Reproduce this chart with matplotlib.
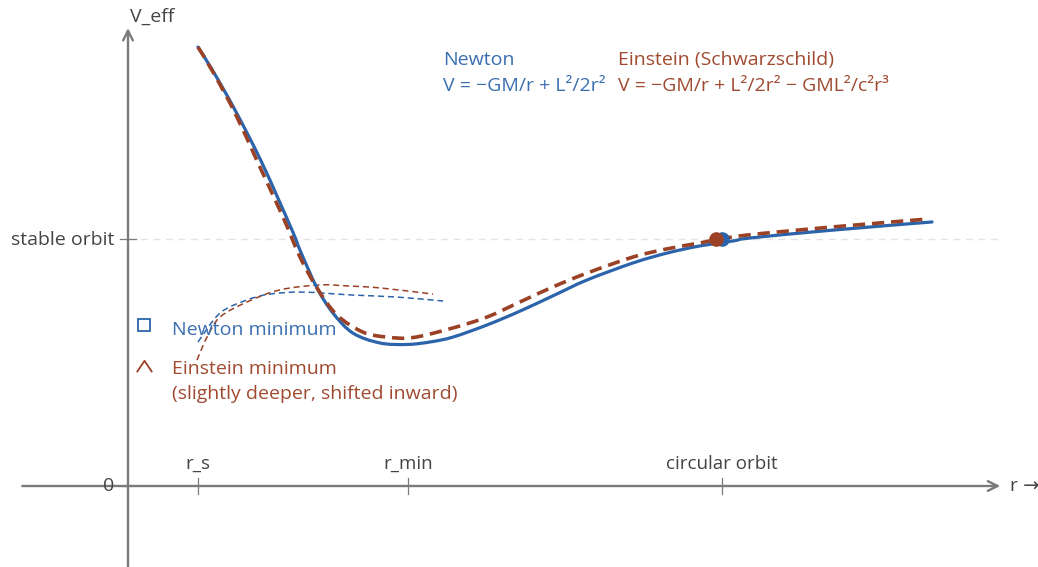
import matplotlib
matplotlib.use("Agg")
import matplotlib.pyplot as plt
from matplotlib.path import Path
from matplotlib.patches import PathPatch

plt.rcParams['font.family'] = ['Open Sans', 'DejaVu Sans']

# ---------------- data ----------------
# radius (arbitrary units: r_s = 1) and effective potential (stable orbit = 1)
r_newton = [1.0, 1.214, 1.529, 1.914, 2.343, 2.457, 2.7, 2.929, 3.214, 3.6, 3.986,
            4.314, 4.643, 5.129, 5.6, 6.071, 6.557, 7.214, 7.7, 8.171, 8.643,
            8.886, 10.07, 11.486]
v_newton = [1.777, 1.680, 1.522, 1.308, 1.036, 0.955, 0.802, 0.700, 0.619, 0.579, 0.573,
            0.583, 0.603, 0.652, 0.708, 0.770, 0.834, 0.903, 0.943, 0.972, 0.992,
            1.004, 1.036, 1.069]

r_einstein = [1.0, 1.214, 1.529, 1.857, 2.214, 2.457, 2.7, 2.986, 3.357, 3.7, 4.071,
              4.643, 5.129, 5.6, 6.071, 6.557, 7.214, 7.7, 8.171, 8.386,
              8.843, 10.07, 11.43]
v_einstein = [1.777, 1.676, 1.510, 1.308, 1.089, 0.927, 0.802, 0.692, 0.623, 0.603, 0.601,
              0.640, 0.684, 0.745, 0.806, 0.862, 0.927, 0.960, 0.984, 0.996,
              1.016, 1.049, 1.081]

# thin dashed guide curves
r_newton_thin = [1.0, 1.314, 1.7, 2.029, 2.5, 3.214, 3.843, 4.5]
v_newton_thin = [0.583, 0.700, 0.753, 0.777, 0.785, 0.773, 0.765, 0.749]
r_einstein_thin = [0.986, 1.129, 1.314, 1.7, 2.171, 2.743, 3.129, 3.6, 4.357]
v_einstein_thin = [0.510, 0.603, 0.684, 0.745, 0.794, 0.814, 0.810, 0.802, 0.777]

# circular-orbit points
circ_newton = (8.49, 1.0)
circ_einstein = (8.4, 1.0)

tick_positions = [1.0, 4.0, 8.49]
tick_labels = ["r_s", "r_min", "circular orbit"]
stable_level = 1.0

# ---------------- styling ----------------
BLUE = "#2b64aa"
BROWN = "#9b4226"
BLUE_T = "#3a6fb0"
BROWN_T = "#a04a30"
AXIS = "#7a7a7a"
TXT = "#444444"
FS = 14


def smooth_path(xs, ys):
    """Catmull-Rom curve through the points, as cubic Bezier segments."""
    pts = list(zip(xs, ys))
    verts = [pts[0]]
    codes = [Path.MOVETO]
    n = len(pts)
    for i in range(n - 1):
        p0 = pts[i - 1] if i > 0 else pts[i]
        p1 = pts[i]
        p2 = pts[i + 1]
        p3 = pts[i + 2] if i + 2 < n else pts[i + 1]
        c1 = (p1[0] + (p2[0] - p0[0]) / 6, p1[1] + (p2[1] - p0[1]) / 6)
        c2 = (p2[0] - (p3[0] - p1[0]) / 6, p2[1] - (p3[1] - p1[1]) / 6)
        verts += [c1, c2, p2]
        codes += [Path.CURVE4] * 3
    return Path(verts, codes)


def draw_curve(ax, xs, ys, **kw):
    patch = PathPatch(smooth_path(xs, ys), fill=False, **kw)
    ax.add_patch(patch)


fig = plt.figure(figsize=(10.38, 5.67), dpi=100)
ax = fig.add_axes([0, 0, 1, 1])
ax.set_xlim(-128 / 70, 910 / 70)
ax.set_ylim(-81 / 247, 486 / 247)
ax.axis("off")

# stable orbit guide line
ax.plot([0, 12.46], [stable_level, stable_level], color="#e4e4e4", lw=1.0,
        linestyle=(0, (5, 4)), zorder=1)

# axes with arrows
ax.annotate("", xy=(12.46, 0), xytext=(-1.51, 0),
            arrowprops=dict(arrowstyle="->,head_length=0.7,head_width=0.35",
                            color=AXIS, lw=1.7, shrinkA=0, shrinkB=0), zorder=2)
ax.annotate("", xy=(0, 1.854), xytext=(0, -0.33),
            arrowprops=dict(arrowstyle="->,head_length=0.7,head_width=0.35",
                            color=AXIS, lw=1.7, shrinkA=0, shrinkB=0), zorder=2)

# ticks
for xt, lab in zip(tick_positions, tick_labels):
    ax.plot([xt, xt], [-0.032, 0.032], color=AXIS, lw=0.9, zorder=2)
    ax.text(xt, 0.089, lab, ha="center", va="center", fontsize=13.5, color=TXT)
ax.plot([-0.114, 0.114], [stable_level, stable_level], color=AXIS, lw=0.9, zorder=2)
ax.plot([-0.09, 0], [0, 0], color=AXIS, lw=0.9, zorder=2)
ax.text(-0.2, stable_level - 0.006, "stable orbit", ha="right", va="center",
        fontsize=FS, color=TXT)
ax.text(-0.2, 0, "0", ha="right", va="center", fontsize=FS, color=TXT)
ax.text(0.03, 1.899, "V_eff", ha="left", va="center", fontsize=FS, color=TXT)
ax.text(12.6, 0, "r →", ha="left", va="center", fontsize=FS, color=TXT)

# thin dashed curves
draw_curve(ax, r_newton_thin, v_newton_thin, edgecolor=BLUE, lw=1.1,
           linestyle=(0, (4, 2.5)), zorder=3)
draw_curve(ax, r_einstein_thin, v_einstein_thin, edgecolor=BROWN, lw=1.1,
           linestyle=(0, (4, 2.5)), zorder=3)

# main curves
draw_curve(ax, r_newton, v_newton, edgecolor=BLUE, lw=2.3, capstyle="round",
           joinstyle="round", zorder=4)
draw_curve(ax, r_einstein, v_einstein, edgecolor=BROWN, lw=2.6,
           linestyle=(0, (3.4, 1.9)), zorder=5)

# circular orbit dots
ax.plot([circ_newton[0]], [circ_newton[1]], "o", color=BLUE, ms=9.5, zorder=6)
ax.plot([circ_einstein[0]], [circ_einstein[1]], "o", color=BROWN, ms=9.5, zorder=7)

# legend-ish glyphs
ax.plot([0.229], [0.652], marker="s", ms=9, mfc="none", mec=BLUE, mew=1.3, ls="none")
caret = Path([(-1, -0.75), (0, 0.75), (1, -0.75)], [Path.MOVETO, Path.LINETO, Path.LINETO])
ax.plot([0.229], [0.486], marker=caret, ms=11, mfc="none", mec=BROWN, mew=1.3, ls="none")
ax.text(0.629, 0.632, "Newton minimum", ha="left", va="center", fontsize=FS, color=BLUE_T)
ax.text(0.629, 0.474, "Einstein minimum", ha="left", va="center", fontsize=FS, color=BROWN_T)
ax.text(0.629, 0.372, "(slightly deeper, shifted inward)", ha="left", va="center",
        fontsize=FS, color=BROWN_T)

# header formulas
ax.text(4.5, 1.725, "Newton", ha="left", va="center", fontsize=FS, color=BLUE_T)
ax.text(4.5, 1.619, "V = −GM/r + L²/2r²", ha="left", va="center", fontsize=FS,
        color=BLUE_T)
ax.text(7.0, 1.725, "Einstein (Schwarzschild)", ha="left", va="center", fontsize=FS,
        color=BROWN_T)
ax.text(7.0, 1.619, "V = −GM/r + L²/2r² − GML²/c²r³", ha="left", va="center",
        fontsize=FS, color=BROWN_T)

fig.savefig("out.png", dpi=100)
